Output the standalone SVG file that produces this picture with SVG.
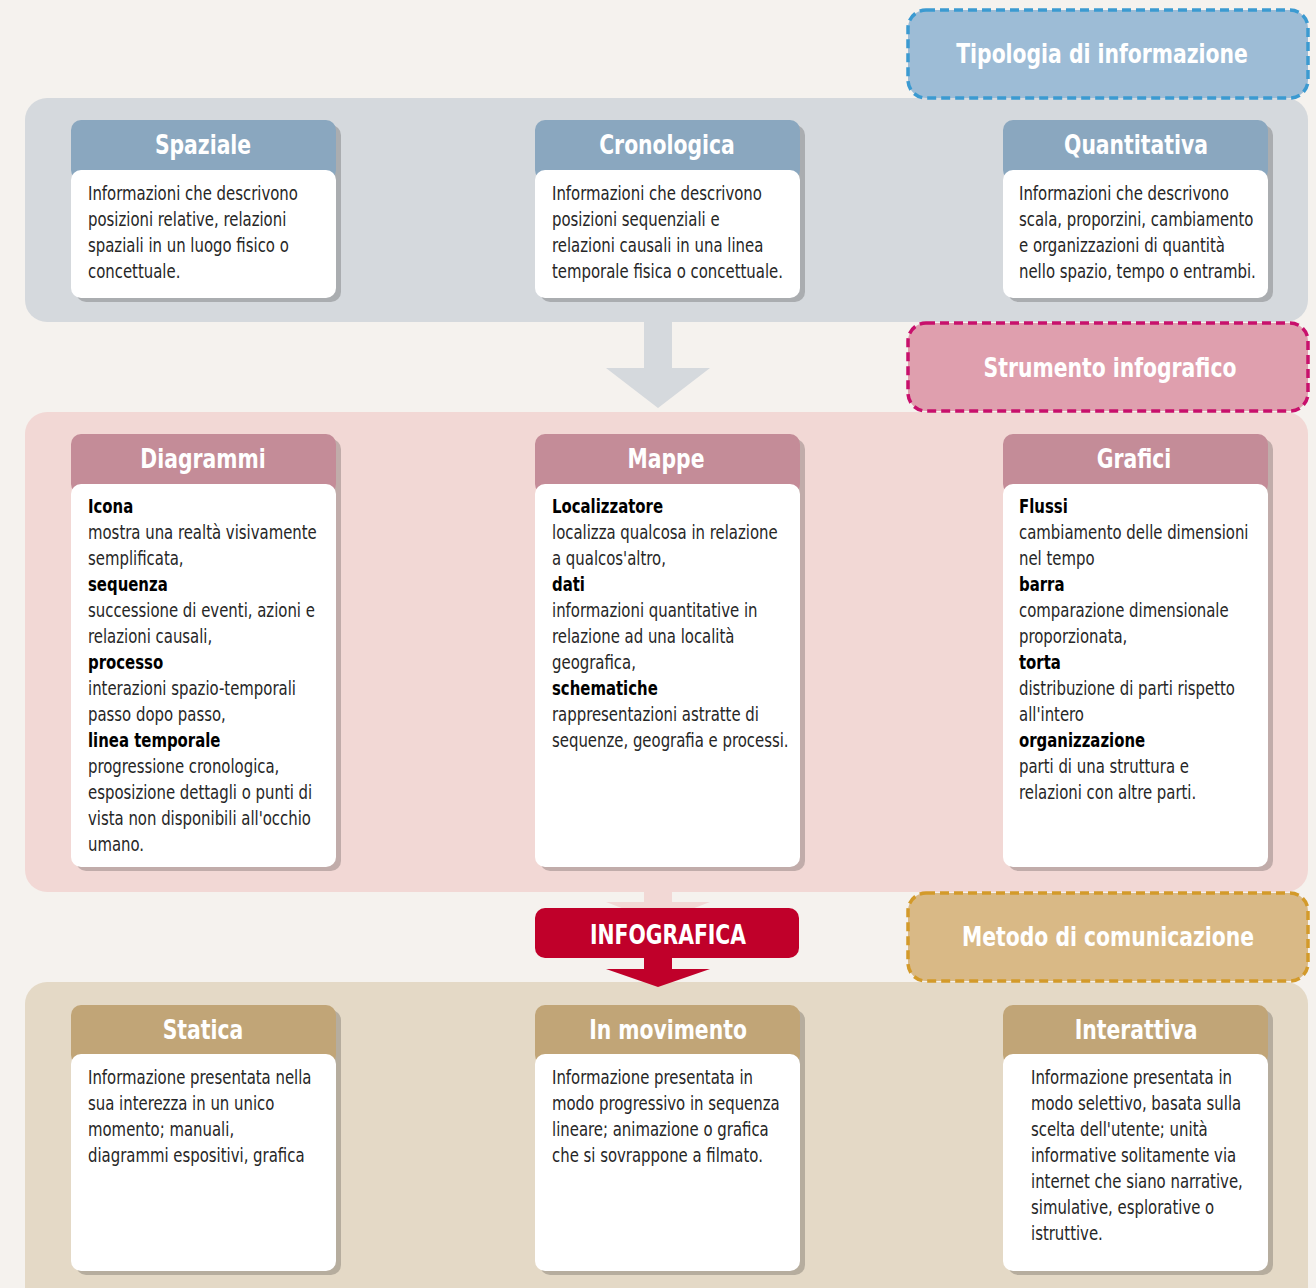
<svg xmlns="http://www.w3.org/2000/svg" width="1316" height="1288" viewBox="0 0 1316 1288">
<style>
.hd{font-family:"DejaVu Sans Condensed","Liberation Sans",sans-serif;font-stretch:condensed;font-weight:bold;font-size:26px;fill:#fff;text-anchor:middle}
.tx{font-family:"DejaVu Sans Condensed","Liberation Sans",sans-serif;font-stretch:condensed;font-size:19.5px;fill:#262626}
.b{font-weight:bold;fill:#000}
.sh{fill:#000;fill-opacity:0.2}
.body{fill:#fff}
.lbl{stroke-width:3.5;stroke-dasharray:9 5}
</style>
<rect width="1316" height="1288" fill="#f5f2ee"/>

<rect x="25" y="98" width="1283" height="224" rx="22" fill="#d5d9dd"/>
<rect x="25" y="412" width="1283" height="480" rx="22" fill="#f2d8d5"/>
<rect x="25" y="982" width="1283" height="330" rx="22" fill="#e4d9c6"/>

<g id="connectors">
  <path d="M644 322 H672 V368 H710 L658 408 L606 368 H644 Z" fill="#d5d9dd"/>
  <path d="M644 892 H672 V902 H710 L658 922 L606 902 H644 Z" fill="#f2d8d5"/>
  <path d="M644 955 H672 V969 H710 L658 987 L606 969 H644 Z" fill="#c0002a"/>
</g>

<g id="label-tipologia">
  <rect class="lbl" x="908" y="10" width="400" height="88" rx="18" fill="#9dbcd6" stroke="#3b9ad1"/>
  <text class="hd" transform="translate(1102 63) scale(0.87 1)">Tipologia di informazione</text>
</g>
<g id="label-strumento">
  <rect class="lbl" x="908" y="323" width="400" height="88" rx="18" fill="#df9fae" stroke="#c8106c"/>
  <text class="hd" transform="translate(1110 377) scale(0.87 1)">Strumento infografico</text>
</g>
<g id="label-metodo">
  <rect class="lbl" x="908" y="893" width="400" height="88" rx="18" fill="#d9b986" stroke="#d39a2a"/>
  <text class="hd" transform="translate(1108 946) scale(0.87 1)">Metodo di comunicazione</text>
</g>

<g id="infografica">
  <rect x="535" y="908" width="264" height="50" rx="10" fill="#c0002a"/>
  <text class="hd" transform="translate(668 944) scale(0.87 1)">INFOGRAFICA</text>
</g>

<g id="spaziale">
  <rect class="sh" x="76" y="125" width="265" height="177" rx="10"/>
  <rect x="71" y="120" width="265" height="60" rx="10" fill="#8aa7bf"/>
  <rect class="body" x="71" y="170" width="265" height="128" rx="10"/>
  <text class="hd" transform="translate(203 154) scale(0.87 1)">Spaziale</text>
  <text class="tx" transform="translate(88 0) scale(0.85 1)"><tspan x="0" y="200">Informazioni che descrivono</tspan><tspan x="0" y="226">posizioni relative, relazioni</tspan><tspan x="0" y="252">spaziali in un luogo fisico o</tspan><tspan x="0" y="278">concettuale.</tspan></text>
</g>
<g id="cronologica">
  <rect class="sh" x="540" y="125" width="265" height="177" rx="10"/>
  <rect x="535" y="120" width="265" height="60" rx="10" fill="#8aa7bf"/>
  <rect class="body" x="535" y="170" width="265" height="128" rx="10"/>
  <text class="hd" transform="translate(667 154) scale(0.87 1)">Cronologica</text>
  <text class="tx" transform="translate(552 0) scale(0.85 1)"><tspan x="0" y="200">Informazioni che descrivono</tspan><tspan x="0" y="226">posizioni sequenziali e</tspan><tspan x="0" y="252">relazioni causali in una linea</tspan><tspan x="0" y="278">temporale fisica o concettuale.</tspan></text>
</g>
<g id="quantitativa">
  <rect class="sh" x="1008" y="125" width="265" height="177" rx="10"/>
  <rect x="1003" y="120" width="265" height="60" rx="10" fill="#8aa7bf"/>
  <rect class="body" x="1003" y="170" width="265" height="128" rx="10"/>
  <text class="hd" transform="translate(1136 154) scale(0.87 1)">Quantitativa</text>
  <text class="tx" transform="translate(1019 0) scale(0.85 1)"><tspan x="0" y="200">Informazioni che descrivono</tspan><tspan x="0" y="226">scala, proporzini, cambiamento</tspan><tspan x="0" y="252">e organizzazioni di quantità</tspan><tspan x="0" y="278">nello spazio, tempo o entrambi.</tspan></text>
</g>

<g id="diagrammi">
  <rect class="sh" x="76" y="439" width="265" height="432" rx="10"/>
  <rect x="71" y="434" width="265" height="60" rx="10" fill="#c48c98"/>
  <rect class="body" x="71" y="484" width="265" height="383" rx="10"/>
  <text class="hd" transform="translate(203 468) scale(0.87 1)">Diagrammi</text>
  <text class="tx" transform="translate(88 0) scale(0.85 1)"><tspan x="0" y="513" class="b">Icona</tspan><tspan x="0" y="539">mostra una realtà visivamente</tspan><tspan x="0" y="565">semplificata,</tspan><tspan x="0" y="591" class="b">sequenza</tspan><tspan x="0" y="617">successione di eventi, azioni e</tspan><tspan x="0" y="643">relazioni causali,</tspan><tspan x="0" y="669" class="b">processo</tspan><tspan x="0" y="695">interazioni spazio-temporali</tspan><tspan x="0" y="721">passo dopo passo,</tspan><tspan x="0" y="747" class="b">linea temporale</tspan><tspan x="0" y="773">progressione cronologica,</tspan><tspan x="0" y="799">esposizione dettagli o punti di</tspan><tspan x="0" y="825">vista non disponibili all'occhio</tspan><tspan x="0" y="851">umano.</tspan></text>
</g>
<g id="mappe">
  <rect class="sh" x="540" y="439" width="265" height="432" rx="10"/>
  <rect x="535" y="434" width="265" height="60" rx="10" fill="#c48c98"/>
  <rect class="body" x="535" y="484" width="265" height="383" rx="10"/>
  <text class="hd" transform="translate(666 468) scale(0.87 1)">Mappe</text>
  <text class="tx" transform="translate(552 0) scale(0.85 1)"><tspan x="0" y="513" class="b">Localizzatore</tspan><tspan x="0" y="539">localizza qualcosa in relazione</tspan><tspan x="0" y="565">a qualcos'altro,</tspan><tspan x="0" y="591" class="b">dati</tspan><tspan x="0" y="617">informazioni quantitative in</tspan><tspan x="0" y="643">relazione ad una località</tspan><tspan x="0" y="669">geografica,</tspan><tspan x="0" y="695" class="b">schematiche</tspan><tspan x="0" y="721">rappresentazioni astratte di</tspan><tspan x="0" y="747">sequenze, geografia e processi.</tspan></text>
</g>
<g id="grafici">
  <rect class="sh" x="1008" y="439" width="265" height="432" rx="10"/>
  <rect x="1003" y="434" width="265" height="60" rx="10" fill="#c48c98"/>
  <rect class="body" x="1003" y="484" width="265" height="383" rx="10"/>
  <text class="hd" transform="translate(1134 468) scale(0.87 1)">Grafici</text>
  <text class="tx" transform="translate(1019 0) scale(0.85 1)"><tspan x="0" y="513" class="b">Flussi</tspan><tspan x="0" y="539">cambiamento delle dimensioni</tspan><tspan x="0" y="565">nel tempo</tspan><tspan x="0" y="591" class="b">barra</tspan><tspan x="0" y="617">comparazione dimensionale</tspan><tspan x="0" y="643">proporzionata,</tspan><tspan x="0" y="669" class="b">torta</tspan><tspan x="0" y="695">distribuzione di parti rispetto</tspan><tspan x="0" y="721">all'intero</tspan><tspan x="0" y="747" class="b">organizzazione</tspan><tspan x="0" y="773">parti di una struttura e</tspan><tspan x="0" y="799">relazioni con altre parti.</tspan></text>
</g>

<g id="statica">
  <rect class="sh" x="76" y="1010" width="265" height="265" rx="10"/>
  <rect x="71" y="1005" width="265" height="60" rx="10" fill="#c1a577"/>
  <rect class="body" x="71" y="1054" width="265" height="217" rx="10"/>
  <text class="hd" transform="translate(203 1039) scale(0.87 1)">Statica</text>
  <text class="tx" transform="translate(88 0) scale(0.85 1)"><tspan x="0" y="1084">Informazione presentata nella</tspan><tspan x="0" y="1110">sua interezza in un unico</tspan><tspan x="0" y="1136">momento; manuali,</tspan><tspan x="0" y="1162">diagrammi espositivi, grafica</tspan></text>
</g>
<g id="in-movimento">
  <rect class="sh" x="540" y="1010" width="265" height="265" rx="10"/>
  <rect x="535" y="1005" width="265" height="60" rx="10" fill="#c1a577"/>
  <rect class="body" x="535" y="1054" width="265" height="217" rx="10"/>
  <text class="hd" transform="translate(668 1039) scale(0.87 1)">In movimento</text>
  <text class="tx" transform="translate(552 0) scale(0.85 1)"><tspan x="0" y="1084">Informazione presentata in</tspan><tspan x="0" y="1110">modo progressivo in sequenza</tspan><tspan x="0" y="1136">lineare; animazione o grafica</tspan><tspan x="0" y="1162">che si sovrappone a filmato.</tspan></text>
</g>
<g id="interattiva">
  <rect class="sh" x="1008" y="1010" width="265" height="265" rx="10"/>
  <rect x="1003" y="1005" width="265" height="60" rx="10" fill="#c1a577"/>
  <rect class="body" x="1003" y="1054" width="265" height="217" rx="10"/>
  <text class="hd" transform="translate(1136 1039) scale(0.87 1)">Interattiva</text>
  <text class="tx" transform="translate(1031 0) scale(0.85 1)"><tspan x="0" y="1084">Informazione presentata in</tspan><tspan x="0" y="1110">modo selettivo, basata sulla</tspan><tspan x="0" y="1136">scelta dell'utente; unità</tspan><tspan x="0" y="1162">informative solitamente via</tspan><tspan x="0" y="1188">internet che siano narrative,</tspan><tspan x="0" y="1214">simulative, esplorative o</tspan><tspan x="0" y="1240">istruttive.</tspan></text>
</g>
</svg>
